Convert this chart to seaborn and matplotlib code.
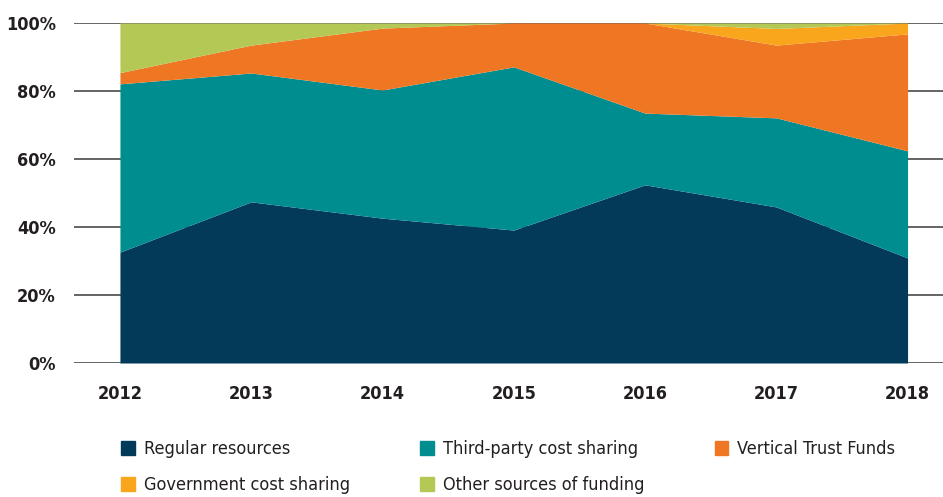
import matplotlib
matplotlib.use("Agg")
import matplotlib.pyplot as plt
import matplotlib.patches as mpatches
import seaborn as sns

years = [2012, 2013, 2014, 2015, 2016, 2017, 2018]
regular = [32.6, 47.4, 42.6, 39.1, 52.4, 45.9, 30.9]
third_party = [49.5, 37.9, 37.7, 48.0, 21.1, 26.2, 31.5]
vertical = [3.3, 8.2, 18.2, 12.9, 26.5, 21.4, 34.4]
government = [0.0, 0.0, 0.0, 0.0, 0.0, 4.9, 3.2]
other = [14.6, 6.5, 1.5, 0.0, 0.0, 1.6, 0.0]

labels = ["Regular resources", "Third-party cost sharing", "Vertical Trust Funds",
          "Government cost sharing", "Other sources of funding"]
colors = ["#033a5a", "#008d8f", "#ef7622", "#f9a61c", "#b4c955"]

sns.set_theme(style="white")
plt.rcParams["font.family"] = ["DejaVu Sans"]
plt.rcParams["font.stretch"] = "condensed"

fig = plt.figure(figsize=(9.43, 4.97), dpi=100)
ax = fig.add_axes([74 / 943, 134 / 497, 1 - 74 / 943, 340 / 497])

series = [regular, third_party, vertical, government, other]
ax.stackplot(years, [[v / 100 for v in s] for s in series], colors=colors,
             labels=labels, zorder=2, linewidth=0)

for y in [0, 0.2, 0.4, 0.6, 0.8, 1.0]:
    ax.axhline(y, color="#4a4a4a", linewidth=1.2, zorder=1)

ax.set_xlim(2011.65, 2018.27)
ax.set_ylim(0, 1)
ax.set_xticks(years)
ax.set_xticklabels([str(y) for y in years], fontsize=13, fontweight="bold", color="#231f20")
ax.set_yticks([0, 0.2, 0.4, 0.6, 0.8, 1.0])
ax.set_yticklabels(["0%", "20%", "40%", "60%", "80%", "100%"], fontsize=13,
                   fontweight="bold", color="#231f20")
ax.tick_params(axis="y", length=0, pad=13)
ax.tick_params(axis="x", length=0, pad=16)
for sp in ax.spines.values():
    sp.set_visible(False)

# row-major legend order: matplotlib fills columns first
order = [0, 3, 1, 4, 2]
handles = [mpatches.Patch(color=colors[i], label=labels[i]) for i in order]
fig.legend(handles=handles, loc="upper left", bbox_to_anchor=(114 / 943, 1 - 433 / 497),
           ncol=3, frameon=False, fontsize=13, handlelength=0.75, handleheight=0.75,
           handletextpad=0.5, columnspacing=3.9, labelspacing=1.0, borderaxespad=0,
           labelcolor="#231f20")

fig.savefig("out.png", dpi=100)
